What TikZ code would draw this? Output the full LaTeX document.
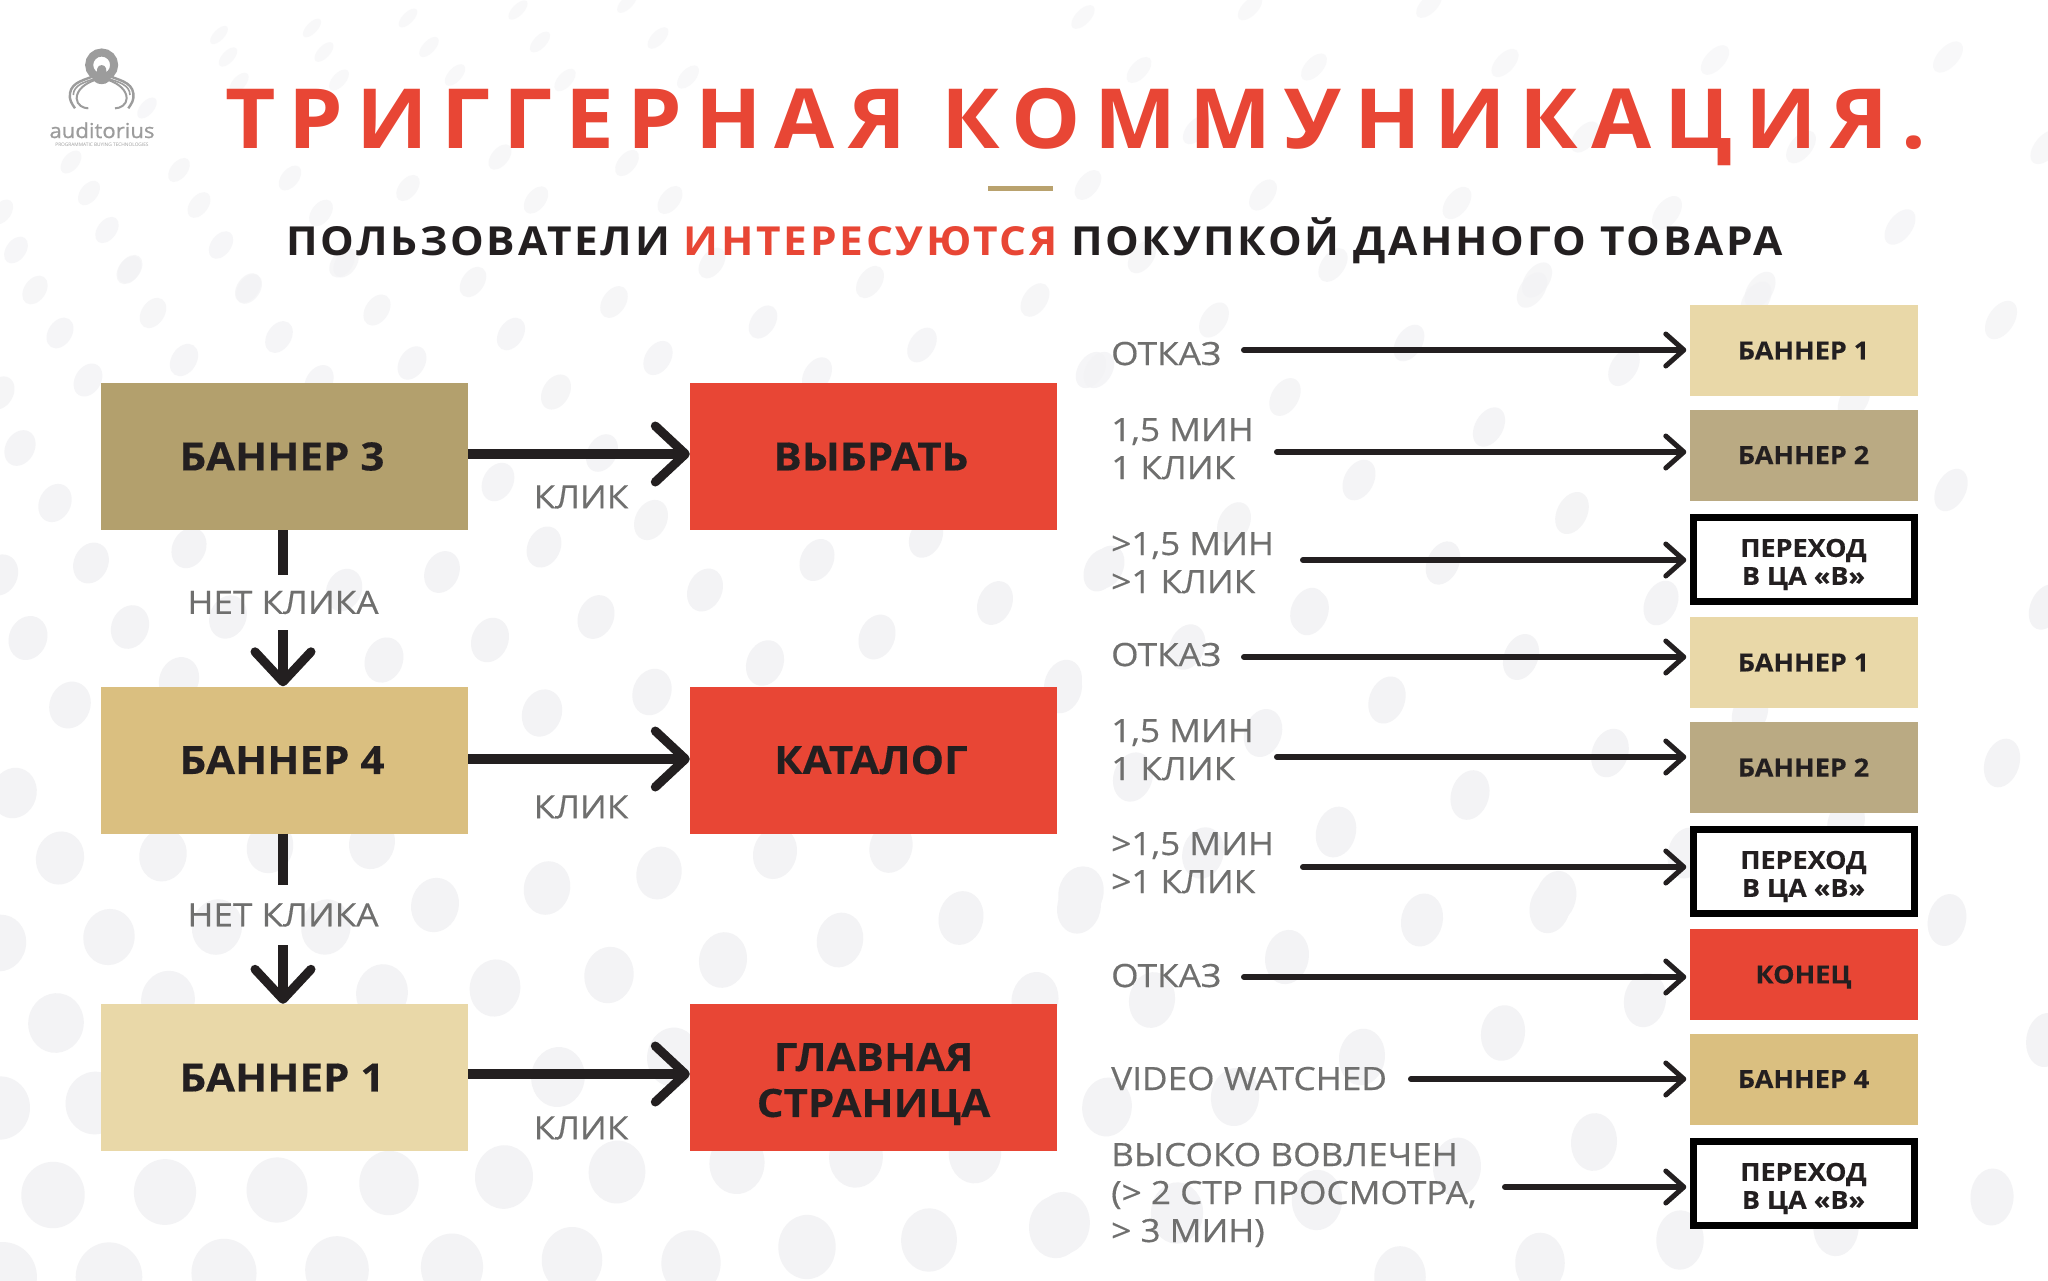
\documentclass[tikz,border=0pt]{standalone}
\usepackage{fontspec}
\setmainfont{Open Sans}
\newfontfamily\ttlfont[LetterSpace=15.8,FakeStretch=1.05]{Open Sans}
\newfontfamily\subfont[LetterSpace=6.8,FakeStretch=1.06]{Open Sans}
\newfontfamily\bxfont[FakeStretch=1.08,FakeBold=0.3]{Open Sans}
\newfontfamily\lbfont[FakeStretch=1.10,FakeBold=0.4]{Open Sans}
\newfontfamily\lgfont[FakeStretch=1.08,FakeBold=0.8]{Open Sans}
\usetikzlibrary{arrows.meta}
\definecolor{myred}{HTML}{E84635}
\definecolor{bthree}{HTML}{B3A06D}
\definecolor{bfour}{HTML}{DABF80}
\definecolor{bone}{HTML}{E9D8A8}
\definecolor{btwo}{HTML}{BAAA83}
\definecolor{mydark}{HTML}{231F20}
\definecolor{mygray}{HTML}{6F6F6E}
\definecolor{mydot}{HTML}{F3F3F5}
\definecolor{mygold}{HTML}{B9A26E}
\definecolor{logogray}{HTML}{9C9C9C}
\tikzset{
 bigbox/.style={minimum width=367pt,minimum height=147pt,inner sep=0pt,align=center,text=mydark,font=\fontsize{39}{46}\bxfont\bfseries},
 smallbox/.style={minimum width=228pt,minimum height=91pt,inner sep=0pt,align=center,text=mydark,font=\fontsize{25}{28}\bxfont\bfseries},
 framed/.style={smallbox,minimum width=221pt,minimum height=84pt,draw=black,line width=7pt,fill=white},
 lab/.style={inner sep=0pt,text=mygray,font=\fontsize{32}{38}\lbfont,anchor=base west,align=left},
 midlab/.style={inner sep=0pt,text=mygray,font=\fontsize{32}{38}\lbfont},
 bigarrow/.style={draw=mydark,line width=10pt,-{Straight Barb[length=30pt,width=56pt,line width=9pt,round]}},
 thinarrow/.style={draw=mydark,line width=6pt,line cap=round,shorten >=3pt,shorten <=3pt,-{Straight Barb[length=18pt,width=32pt,line width=5pt,round]}},
 downstub/.style={draw=mydark,line width=10pt},
}
\newcommand{\leftnudge}{\kern 5pt}
\begin{document}
\begin{tikzpicture}[x=1pt,y=-1pt]
\useasboundingbox (0,0) rectangle (2048,1280);
\fill[white] (0,0) rectangle (2048,1280);
% background dots
\foreach \x/\y in {627/3,518/10,408/18,312/28,219/35,658/38,540/42,429/47,324/52,228/57,455/75,565/80,339/80,239/83,147/108,688/77,500/157,627/163,179/170,71/162,290/178,408/188,536/200,670/200,89/193,199/205,2/212,107/230,321/213,221/245,16/250,129/270,346/263,248/288,
35/290,130/269,60/333,153/313,249/289,342/263,473/282,377/310,279/337,184/360,88/380,511/334,614/302,712/263,870/282,763/322,658/358,412/363,556/392,817/375,922/345,1035/300,1091/370,0/393,20/448,319/382,55/503,498/482,602/453,651/520,544/547,817/560,926/537,189/548,91/563,0/575,442/572,1101/570,344/590,705/590,995/603,596/617,130/627,228/617,28/638,490/640,877/637,384/660,765/663,652/692,1063/690,179/680,70/705,542/713,
14/793,60/858,163/855,270/847,372/843,547/888,659/873,775/853,891/847,1080/893,435/905,961/918,109/937,217/927,840/940,326/927,0/943,723/960,609/975,495/988,382/993,168/1000,56/1023,1035/1000,0/1108,673/1057,558/1077,95/1103,53/1195,165/1192,277/1190,389/1183,504/1177,617/1172,737/1163,856/1157,975/1153,1056/1227,929/1240,807/1247,691/1263,572/1260,452/1267,337/1270,224/1273,109/1277,3/1277,
1083/17,1250/8,1429/5,1139/70,1314/67,1505/63,1715/60,1948/57,1088/185,1263/195,1457/203,1667/213,1900/227,1142/257,1333/265,1537/280,1760/290,2046/147,1801/147,1585/137,1196/130,
1214/320,1409/343,1532/290,1099/370,1624/367,1756/300,1285/397,1489/427,1854/400,1359/480,1572/513,1234/523,1443/563,1107/567,1661/603,1308/610,2001/320,1951/490,
1311/613,2046/607,1187/647,1521/657,1063/683,1387/700,1750/713,1263/733,1610/753,2002/763,1133/777,1470/795,1846/823,1336/832,1687/853,1203/853,1082/893,1556/897,1947/920,1422/920,
1079/907,1550/907,1287/957,1152/1000,1645/1000,1503/1033,2046/1040,1362/1057,1107/1107,1235/1097,1594/1142,1457/1167,1992/1197,1317/1200,1177/1213,1063/1223,1836/1227,1680/1240,1540/1263,1400/1277}{
 \pgfmathsetmacro\tt{\y/1280}
 \pgfmathsetmacro\uu{\x/2048}
 \pgfmathsetmacro\ra{10+25*\tt+9*\uu*(1-\tt)-6*\uu*\tt}
 \pgfmathsetmacro\rb{4+30*\tt*(1-0.4*\uu)+6*\uu*(1-\tt)}
 \pgfmathsetmacro\ang{45+45*\tt}
 \pgfmathsetmacro\op{0.5+0.5*min(1,2*\tt)}
 \fill[mydot,fill opacity=\op,rotate around={\ang:(\x,\y)}] (\x,\y) ellipse [x radius=\ra pt,y radius=\rb pt];
}
% logo
\begin{scope}[shift={(40,40)},x=0.3333pt,y=-0.3333pt,logogray]
 \draw[line width=8pt] (185,75) circle [radius=12.5pt];
 \fill (172,85) .. controls (175,72) and (195,72) .. (198,85) .. controls (200,100) and (200,110) .. (206,125) .. controls (195,135) and (175,135) .. (164,125) .. controls (170,110) and (170,100) .. (172,85) -- cycle;
 \foreach \s in {1,-1}{
 \begin{scope}[shift={(185,0)},xscale=\s]
  \draw[line width=2.4pt] (-15,105) .. controls (-50,120) and (-90,125) .. (-95,160) .. controls (-98,180) and (-90,190) .. (-80,205);
  \draw[line width=2pt] (-20,120) .. controls (-50,130) and (-75,150) .. (-75,175) .. controls (-75,195) and (-55,205) .. (-40,205);
  \draw[line width=1.6pt] (-15,115) .. controls (-50,125) and (-85,135) .. (-85,165);
 \end{scope}}
\end{scope}
\node[inner sep=0pt,anchor=base,text=logogray,font=\fontsize{20.5}{20}\lgfont] (logotxt) at (102,138) {auditorius};
\node[inner sep=0pt,anchor=base,text=logogray,font=\fontsize{4.8}{5}\selectfont] (logosub) at (102,146) {PROGRAMMATIC BUYING TECHNOLOGIES};
% title
\node[inner sep=0pt,anchor=base west,text=myred,font=\fontsize{83}{90}\ttlfont\bfseries] (title) at (225,148) {ТРИГГЕРНАЯ КОММУНИКАЦИЯ.};
\fill[mygold] (988,185.5) rectangle (1053,190.5);
\node[inner sep=0pt,anchor=base west,text=mydark,font=\fontsize{40}{46}\subfont\bfseries] (subtitle) at (286,255) {ПОЛЬЗОВАТЕЛИ \textcolor{myred}{ИНТЕРЕСУЮТСЯ} ПОКУПКОЙ ДАННОГО ТОВАРА};
% left column
\node[bigbox,fill=bthree] (b3) at (284.5,456.5) {БАННЕР 3\leftnudge};
\node[bigbox,fill=bfour] (b4) at (284.5,760) {БАННЕР 4\leftnudge};
\node[bigbox,fill=bone] (b1) at (284.5,1077.5) {БАННЕР 1\leftnudge};
\node[bigbox,fill=myred] (r1) at (873.5,456.5) {ВЫБРАТЬ\leftnudge};
\node[bigbox,fill=myred] (r2) at (873.5,760) {КАТАЛОГ\leftnudge};
\node[bigbox,fill=myred] (r3) at (873.5,1077.5) {\rule{0pt}{41pt}ГЛАВНАЯ\\СТРАНИЦА};
\draw[bigarrow] ([yshift=2.5pt]b3.east) -- ([yshift=2.5pt]r1.west);
\draw[bigarrow] ([yshift=1pt]b4.east) -- ([yshift=1pt]r2.west);
\draw[bigarrow] ([yshift=3.5pt]b1.east) -- ([yshift=3.5pt]r3.west);
\node[midlab] (k1) at (581,497) {КЛИК};
\node[midlab] (k2) at (581,807) {КЛИК};
\node[midlab] (k3) at (581,1128) {КЛИК};
\node[midlab,minimum height=55pt] (n1) at (283,602.5) {НЕТ КЛИКА};
\node[midlab,minimum height=60pt] (n2) at (283,915) {НЕТ КЛИКА};
\draw[downstub] (n1.north |- b3.south) -- (n1.north);
\draw[bigarrow] (n1.south) -- (n1.south |- b4.north);
\draw[downstub] (n2.north |- b4.south) -- (n2.north);
\draw[bigarrow] (n2.south) -- (n2.south |- b1.north);
% right boxes
\node[smallbox,fill=bone] (a1) at (1803.5,350.5) {БАННЕР 1};
\node[smallbox,fill=btwo] (a2) at (1803.5,455) {БАННЕР 2};
\node[framed] (a3) at (1803.5,559.5) {\rule{0pt}{28pt}ПЕРЕХОД\\В ЦА «В»};
\node[smallbox,fill=bone] (a4) at (1803.5,662.5) {БАННЕР 1};
\node[smallbox,fill=btwo] (a5) at (1803.5,767.5) {БАННЕР 2};
\node[framed] (a6) at (1803.5,871.5) {\rule{0pt}{28pt}ПЕРЕХОД\\В ЦА «В»};
\node[smallbox,fill=myred] (a7) at (1803.5,974.5) {\rule{0pt}{23pt}КОНЕЦ};
\node[smallbox,fill=bfour] (a8) at (1803.5,1079) {БАННЕР 4};
\node[framed] (a9) at (1803.5,1183.5) {\rule{0pt}{28pt}ПЕРЕХОД\\В ЦА «В»};
% right labels (the base anchor of a multi-line node is its last line)
\node[lab] (l1) at (1111,365) {ОТКАЗ};
\node[lab] (l2) at (1111,479) {1,5 МИН\\1 КЛИК};
\node[lab] (l3) at (1111,593) {>1,5 МИН\\>1 КЛИК};
\node[lab] (l4) at (1111,666) {ОТКАЗ};
\node[lab] (l5) at (1111,780) {1,5 МИН\\1 КЛИК};
\node[lab] (l6) at (1111,893) {>1,5 МИН\\>1 КЛИК};
\node[lab] (l7) at (1111,987) {ОТКАЗ};
\node[lab] (l8) at (1111,1090) {VIDEO WATCHED};
\node[lab] (l9) at (1111,1242) {ВЫСОКО ВОВЛЕЧЕН\\(> 2 СТР ПРОСМОТРА,\\> 3 МИН)};
% arrows
\coordinate (s1) at (1241,350);
\coordinate (s2) at (1274,452);
\coordinate (s3) at (1300,560);
\coordinate (s4) at (1241,657);
\coordinate (s5) at (1274,757);
\coordinate (s6) at (1300,867);
\coordinate (s7) at (1241,977);
\coordinate (s8) at (1408,1079);
\coordinate (s9) at (1502,1187);
\draw[thinarrow] (s1) -- (s1 -| a1.west);
\draw[thinarrow] (s2) -- (s2 -| a2.west);
\draw[thinarrow] (s3) -- (s3 -| a1.west);
\draw[thinarrow] (s4) -- (s4 -| a4.west);
\draw[thinarrow] (s5) -- (s5 -| a5.west);
\draw[thinarrow] (s6) -- (s6 -| a4.west);
\draw[thinarrow] (s7) -- (s7 -| a7.west);
\draw[thinarrow] (s8) -- (s8 -| a8.west);
\draw[thinarrow] (s9) -- (s9 -| a1.west);
\end{tikzpicture}
\end{document}
